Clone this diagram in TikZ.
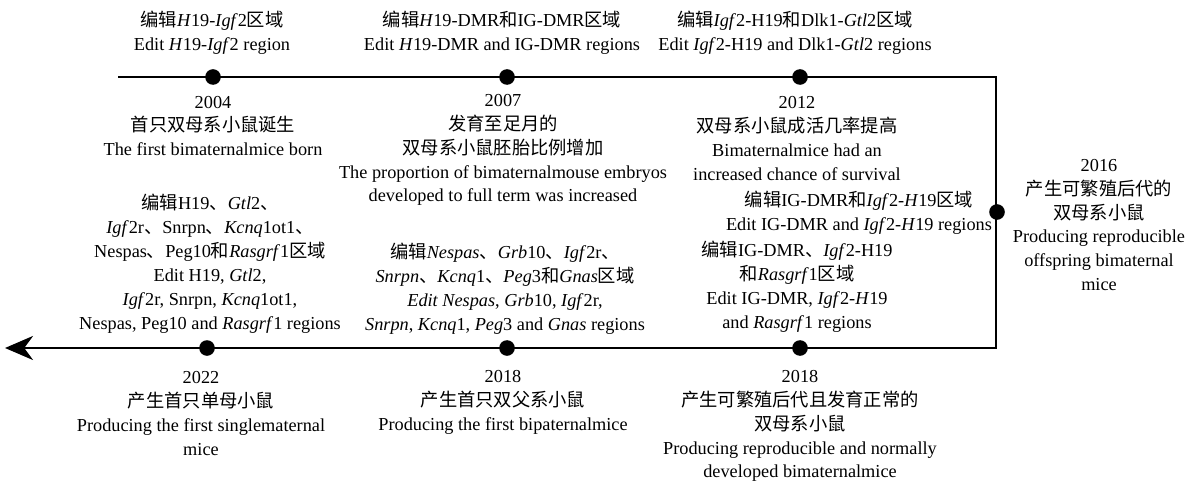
\documentclass[tikz,border=0pt]{standalone}
\usepackage{fontspec}
\setmainfont{Liberation Serif}
\newfontfamily\cjk{Noto Sans CJK SC}
\usetikzlibrary{arrows.meta}
\newcommand{\zh}[1]{{\cjk #1}}

\begin{document}
\begin{tikzpicture}[x=0.025cm, y=-0.025cm, % 1 Einheit = 1 Pixel der Vorlage
  txt/.style={align=center, inner sep=0pt, font=\fontsize{13}{17}\selectfont},
  punkt/.style={circle, fill=black, inner sep=0pt, minimum size=0.39cm},
  achse/.style={line width=2.1pt, -{Stealth[length=0.7cm, width=0.6cm, inset=0.22cm]}}]

\useasboundingbox (0,0) rectangle (1202,485);

% Zeitachse
\coordinate (start) at (118,77);
\coordinate (ecke1) at (996,77);
\coordinate (ecke2) at (996,348);
\coordinate (ende) at (5,348);
\draw[achse] (start) -- (ecke1) -- (ecke2) -- (ende);

% Punkte auf der Achse
\foreach \n/\x/\y in {d2004/213/77, d2007/507/77, d2012/800/77, d2016/997/212,
                      d2018b/800/348, d2018a/507/348, d2022/207/348} {
  \node[punkt] (\n) at (\x,\y) {};
}

% oben
\node[txt] (e2004) at (212,32.5) {\zh{编辑}\textit{H}19-\textit{Igf}2\zh{区域}\\Edit \textit{H}19-\textit{Igf}2 region};
\node[txt] (e2007) at (502,32.5) {\zh{编辑}\textit{H}19-DMR\zh{和}IG-DMR\zh{区域}\\Edit \textit{H}19-DMR and IG-DMR regions};
\node[txt] (e2012) at (795,32.5) {\zh{编辑}\textit{Igf}2-H19\zh{和}Dlk1-\textit{Gtl}2\zh{区域}\\Edit \textit{Igf}2-H19 and Dlk1-\textit{Gtl}2 regions};

% unter der oberen Achse
\node[txt] (t2004) at (213,126) {2004\\\zh{首只双母系小鼠诞生}\\The first bimaternalmice born};
\node[txt] (t2007) at (503,150) {2007\\\zh{发育至足月的}\\\zh{双母系小鼠胚胎比例增加}\\The proportion of bimaternalmouse embryos\\developed to full term was increased};
\node[txt] (t2012) at (797,138.5) {2012\\\zh{双母系小鼠成活几率提高}\\Bimaternalmice had an\\increased chance of survival};
\node[txt] (e2016) at (859,212.5) {\zh{编辑}IG-DMR\zh{和}\textit{Igf}2-\textit{H}19\zh{区域}\\Edit IG-DMR and \textit{Igf}2-\textit{H}19 regions};

% rechts
\node[txt] (t2016) at (1099,225) {2016\\\zh{产生可繁殖后代的}\\\zh{双母系小鼠}\\Producing reproducible\\offspring bimaternal\\mice};

% über der unteren Achse
\node[txt] (e2022) at (210,264) {\zh{编辑}H19\zh{、}\textit{Gtl}2\zh{、}\\\textit{Igf}2r\zh{、}Snrpn\zh{、}\textit{Kcnq}1ot1\zh{、}\\Nespas\zh{、}Peg10\zh{和}\textit{Rasgrf}1\zh{区域}\\Edit H19, \textit{Gtl}2,\\\textit{Igf}2r, Snrpn, \textit{Kcnq}1ot1,\\Nespas, Peg10 and \textit{Rasgrf}1 regions};
\node[txt] (e2018a) at (505,288.5) {\zh{编辑}\textit{Nespas}\zh{、}\textit{Grb}10\zh{、}\textit{Igf}2r\zh{、}\\\textit{Snrpn}\zh{、}\textit{Kcnq}1\zh{、}\textit{Peg}3\zh{和}\textit{Gnas}\zh{区域}\\\textit{Edit Nespas}, \textit{Grb}10, \textit{Igf}2r,\\\textit{Snrpn}, \textit{Kcnq}1, \textit{Peg}3 and \textit{Gnas} regions};
\node[txt] (e2018b) at (797,287) {\zh{编辑}IG-DMR\zh{、}\textit{Igf}2-H19\\\zh{和}\textit{Rasgrf}1\zh{区域}\\Edit IG-DMR, \textit{Igf}2-\textit{H}19\\and \textit{Rasgrf}1 regions};

% unten
\node[txt] (t2022) at (201,413.5) {2022\\\zh{产生首只单母小鼠}\\Producing the first singlematernal\\mice};
\node[txt] (t2018a) at (503,402) {2018\\\zh{产生首只双父系小鼠}\\Producing the first bipaternalmice};
\node[txt] (t2018b) at (800,426) {2018\\\zh{产生可繁殖后代且发育正常的}\\\zh{双母系小鼠}\\Producing reproducible and normally\\developed bimaternalmice};

\end{tikzpicture}
\end{document}
